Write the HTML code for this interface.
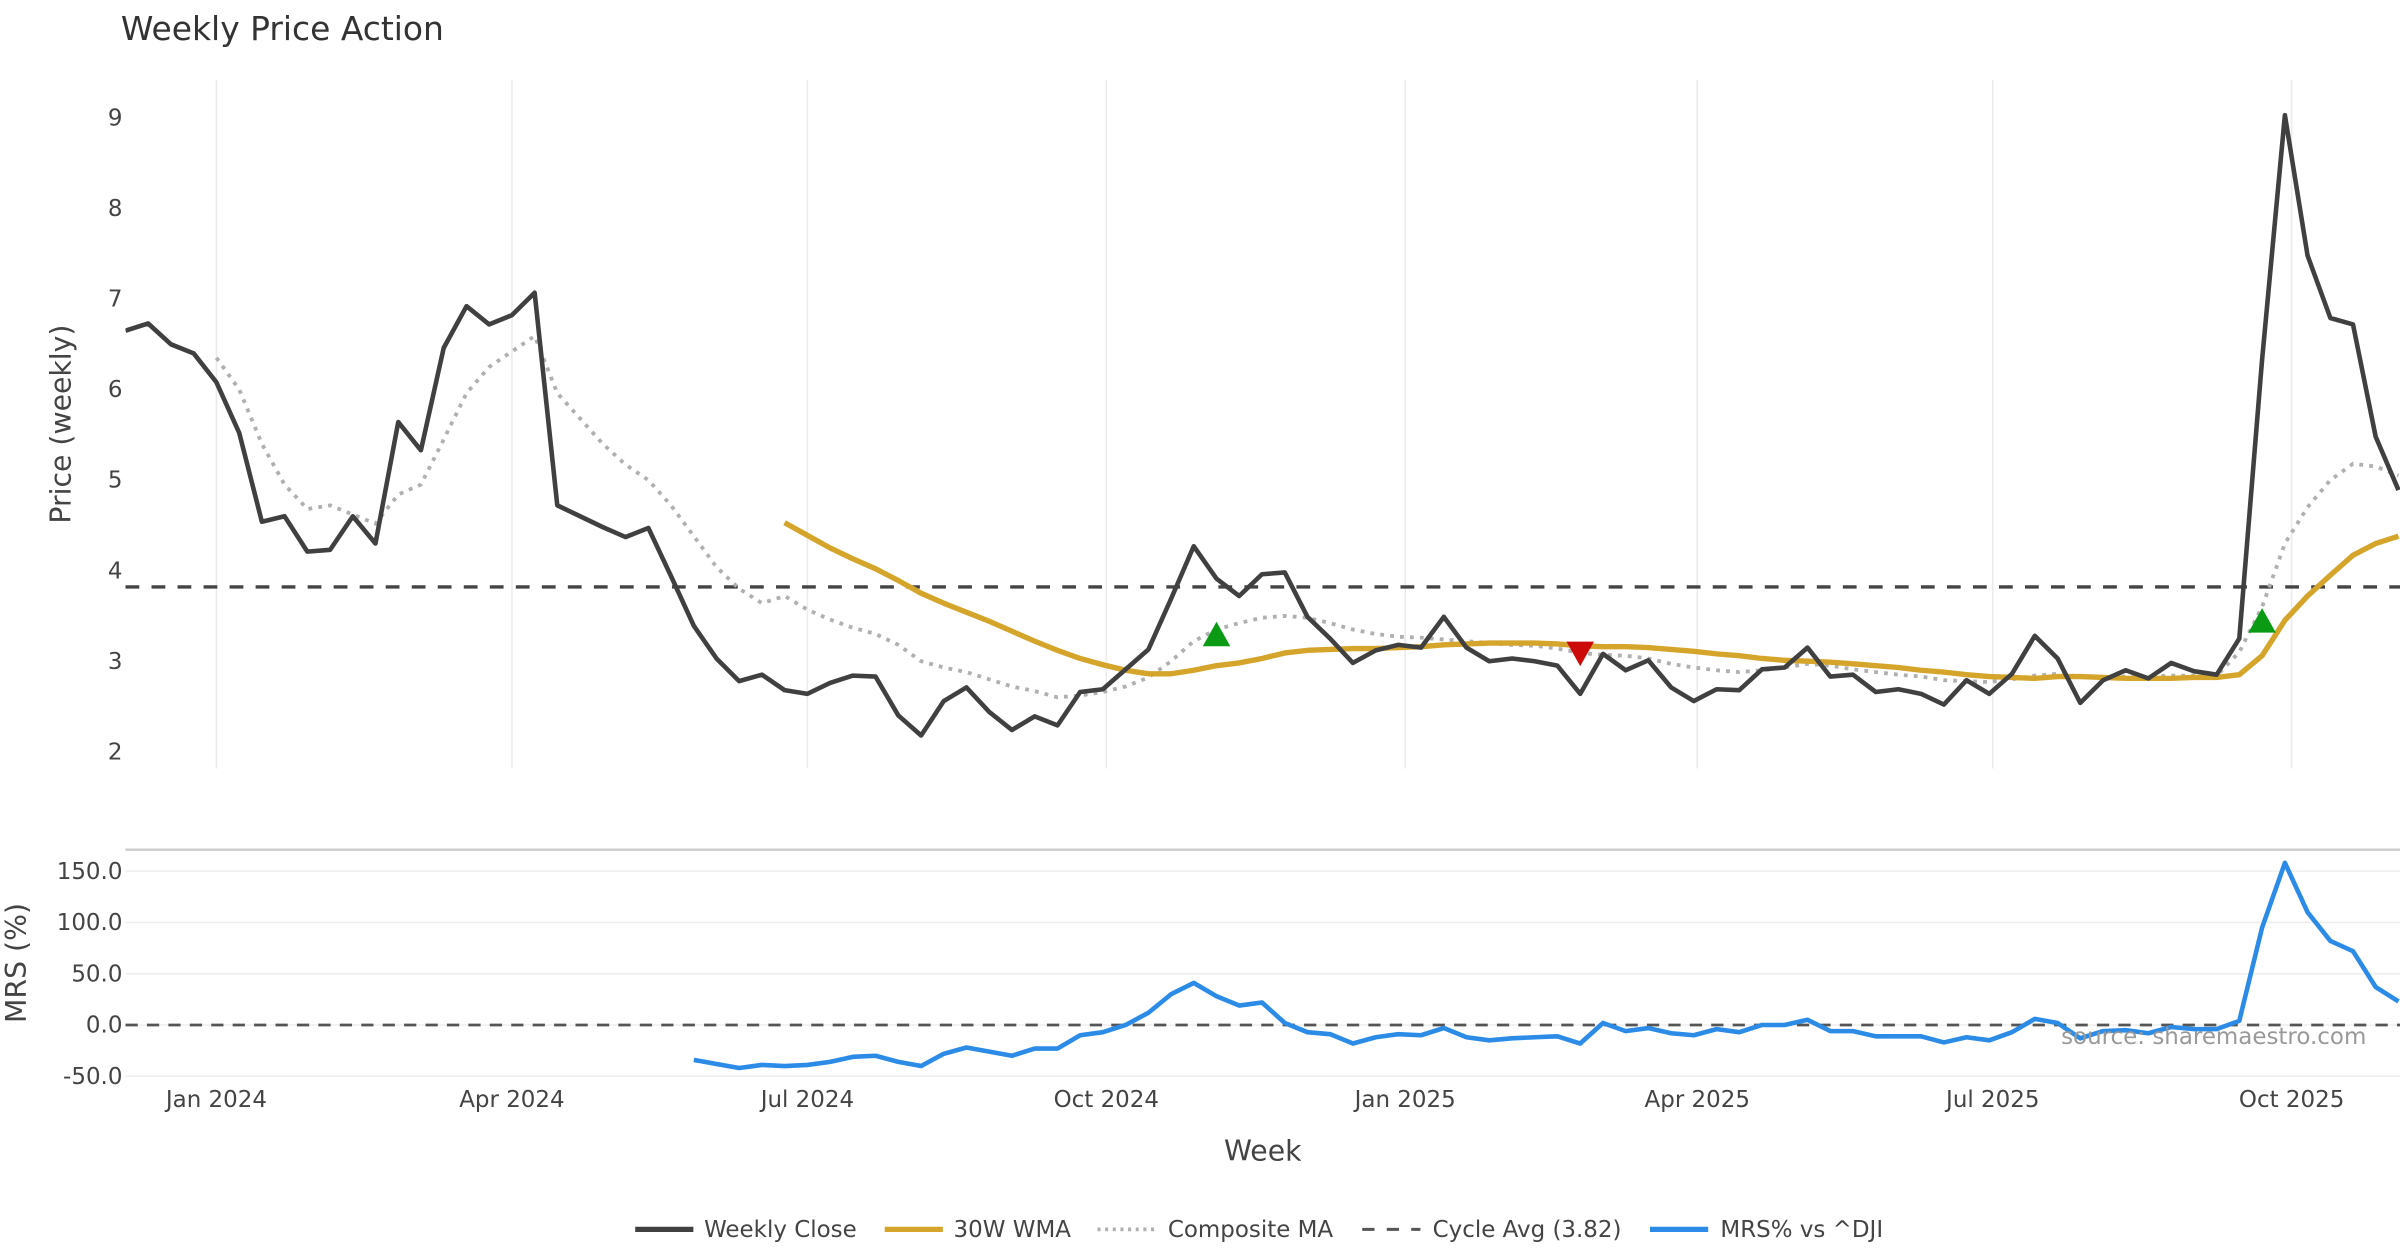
<!DOCTYPE html>
<html><head><meta charset="utf-8"><style>
html,body{margin:0;padding:0;background:#fff;}
svg{display:block;font-family:"DejaVu Sans","Liberation Sans",sans-serif;}
</style></head><body>
<svg id="chart" width="2400" height="1260" viewBox="0 0 1568 823" preserveAspectRatio="none" xmlns="http://www.w3.org/2000/svg">
<defs><clipPath id="pc"><rect x="82" y="40" width="1486" height="480"/></clipPath>
<clipPath id="mc"><rect x="82" y="550" width="1486" height="170"/></clipPath></defs>
<text x="79" y="26" font-size="21.5" fill="#333">Weekly Price Action</text>
<text transform="translate(46,277) rotate(-90)" text-anchor="middle" font-size="18.5" fill="#444">Price (weekly)</text>
<text transform="translate(17,629) rotate(-90)" text-anchor="middle" font-size="18.5" fill="#444">MRS (%)</text>
<text x="825" y="758" text-anchor="middle" font-size="18.5" fill="#444">Week</text>
<g id="grid"></g><g id="plot" clip-path="url(#pc)"></g><g id="mrs" clip-path="url(#mc)"></g><g id="labels"></g>
<text x="1546" y="682" text-anchor="end" font-size="15" fill="#999">source: sharemaestro.com</text>
<g id="legend" font-size="15" fill="#444">
<line x1="415" y1="803" x2="453" y2="803" stroke="#404040" stroke-width="3.5"/><text x="460" y="808">Weekly Close</text>
<line x1="578" y1="803" x2="616" y2="803" stroke="#d4a52a" stroke-width="3.5"/><text x="623" y="808">30W WMA</text>
<line x1="717" y1="803" x2="755" y2="803" stroke="#b0b0b0" stroke-width="2.5" stroke-dasharray="2,3"/><text x="763" y="808">Composite MA</text>
<line x1="890" y1="803" x2="928" y2="803" stroke="#555" stroke-width="2" stroke-dasharray="8,8"/><text x="936" y="808">Cycle Avg (3.82)</text>
<line x1="1078" y1="803" x2="1116" y2="803" stroke="#2b8be6" stroke-width="3.5"/><text x="1124" y="808">MRS% vs ^DJI</text>
</g>
</svg>
<script>
const closeVals=[6.65,6.73,6.5,6.4,6.08,5.52,4.54,4.6,4.21,4.23,4.6,4.3,5.64,5.33,6.46,6.92,6.72,6.82,7.07,4.72,4.6,4.48,4.37,4.47,3.94,3.39,3.03,2.78,2.85,2.68,2.64,2.76,2.84,2.83,2.4,2.18,2.56,2.71,2.44,2.24,2.39,2.29,2.66,2.69,2.91,3.13,3.69,4.27,3.91,3.72,3.96,3.98,3.49,3.25,2.98,3.12,3.18,3.15,3.49,3.15,3.0,3.03,3.0,2.95,2.64,3.08,2.9,3.01,2.71,2.56,2.69,2.68,2.91,2.93,3.15,2.83,2.85,2.66,2.69,2.64,2.52,2.79,2.64,2.86,3.28,3.03,2.54,2.79,2.9,2.81,2.98,2.89,2.85,3.25,6.33,9.03,7.48,6.79,6.72,5.48,4.89];
const wmaStart=29;
const wmaVals=[4.53,4.39,4.25,4.13,4.02,3.89,3.75,3.64,3.54,3.44,3.33,3.22,3.12,3.03,2.96,2.9,2.86,2.86,2.9,2.95,2.98,3.03,3.09,3.12,3.13,3.14,3.14,3.15,3.16,3.18,3.19,3.2,3.2,3.2,3.19,3.17,3.16,3.16,3.15,3.13,3.11,3.08,3.06,3.03,3.01,3.0,2.99,2.97,2.95,2.93,2.9,2.88,2.85,2.83,2.82,2.81,2.83,2.83,2.82,2.81,2.81,2.81,2.82,2.82,2.85,3.06,3.45,3.72,3.95,4.17,4.3,4.38];
const compStart=4;
const compVals=[6.35,6.0,5.4,4.95,4.68,4.72,4.62,4.52,4.84,4.95,5.45,5.96,6.25,6.42,6.59,5.96,5.68,5.4,5.17,5.0,4.72,4.38,4.04,3.8,3.64,3.72,3.57,3.46,3.37,3.3,3.18,3.0,2.93,2.88,2.8,2.72,2.67,2.6,2.62,2.66,2.72,2.82,3.0,3.22,3.35,3.42,3.48,3.5,3.48,3.42,3.35,3.3,3.27,3.26,3.24,3.22,3.2,3.18,3.17,3.14,3.09,3.07,3.06,3.03,2.97,2.93,2.9,2.88,2.9,2.93,2.97,2.95,2.91,2.88,2.85,2.83,2.79,2.78,2.77,2.8,2.84,2.86,2.83,2.82,2.83,2.83,2.84,2.84,2.84,3.1,3.6,4.3,4.7,5.0,5.18,5.15,5.05];
const mrsStart=25;
const mrsVals=[-34,-38,-42,-39,-40,-39,-36,-31,-30,-36,-40,-28,-22,-26,-30,-23,-23,-10,-7,0,12,30,41,28,19,22,2,-7,-9,-18,-12,-9,-10,-3,-12,-15,-13,-12,-11,-18,2,-6,-3,-8,-10,-4,-7,0,0,5,-6,-6,-11,-11,-11,-17,-12,-15,-7,6,2,-13,-6,-5,-8,-2,-4,-4,4,95,158,110,82,72,37,23];
const cycleAvg=3.82;
const buyIdx=[48,94];const buyVals=[3.3,3.45];
const sellIdx=[64];const sellVals=[3.08];
const priceTicks=[2,3,4,5,6,7,8,9];
const mrsTicks=[-50,0,50,100,150];
const monthLabels=["Jan 2024","Apr 2024","Jul 2024","Oct 2024","Jan 2025","Apr 2025","Jul 2025","Oct 2025"];
const monthWeeks=[4,17,30,43.15,56.3,69.15,82.15,95.3];

const NS="http://www.w3.org/2000/svg";
const X=i=>82+i*14.85;
const Y=v=>491-(v-2)*59.14;
const M=v=>669.5-v*0.67;
function mk(p,t,a){const e=document.createElementNS(NS,t);for(const k in a)e.setAttribute(k,a[k]);p.appendChild(e);return e;}
const grid=document.getElementById('grid'),plot=document.getElementById('plot'),mrs=document.getElementById('mrs'),lab=document.getElementById('labels');
monthWeeks.forEach((w,k)=>{
 const g=mk(grid,'line',{x1:X(w),x2:X(w),y1:52,y2:502,stroke:'#ebebeb','stroke-width':1});
 
 
 const t=mk(lab,'text',{x:X(w),y:723,'text-anchor':'middle','font-size':15,fill:'#444'});t.textContent=monthLabels[k];
 
 
});
priceTicks.forEach(v=>{const t=mk(lab,'text',{x:80,y:Y(v)+5,'text-anchor':'end','font-size':15,fill:'#444'});t.textContent=v;
 
 });
const sep=mk(grid,'line',{x1:82,x2:1568,y1:555,y2:555,stroke:'#ccc','stroke-width':1.5});


mrsTicks.forEach(v=>{mk(grid,'line',{x1:82,x2:1568,y1:M(v),y2:M(v),stroke:'#eeeeee','stroke-width':1});
 const t=mk(lab,'text',{x:80,y:M(v)+5,'text-anchor':'end','font-size':15,fill:'#444'});t.textContent=v.toFixed(1);
 
 });
function path(arr,start,fx,fy){return arr.map((v,i)=>(i?'L':'M')+fx(start+i).toFixed(1)+','+fy(v).toFixed(1)).join('');}
const ca=mk(plot,'line',{x1:82,x2:1568,y1:Y(cycleAvg),y2:Y(cycleAvg),stroke:'#444','stroke-width':2.2,'stroke-dasharray':'9,8'});


const cp=mk(plot,'path',{d:path(compVals,compStart,X,Y),fill:'none',stroke:'#b0b0b0','stroke-width':2.5,'stroke-dasharray':'2.5,4'});


const wp=mk(plot,'path',{d:path(wmaVals,wmaStart,X,Y),fill:'none',stroke:'#d4a52a','stroke-width':3.5,'stroke-linejoin':'round'});


const cl=mk(plot,'path',{d:path(closeVals,0,X,Y),fill:'none',stroke:'#404040','stroke-width':3,'stroke-linejoin':'round'});


buyIdx.forEach((i,k)=>{const x=X(i),y=Y(buyVals[k]);const m=mk(plot,'polygon',{points:`${x-9},${y+8} ${x+9},${y+8} ${x},${y-8}`,fill:'#0a9a14'});
 
 });
sellIdx.forEach((i,k)=>{const x=X(i),y=Y(sellVals[k]);const m=mk(plot,'polygon',{points:`${x-9},${y-8} ${x+9},${y-8} ${x},${y+8}`,fill:'#cc0a0a'});
 
 });
const z=mk(mrs,'line',{x1:82,x2:1568,y1:M(0),y2:M(0),stroke:'#555','stroke-width':1.8,'stroke-dasharray':'8,6'});


const mp=mk(mrs,'path',{d:path(mrsVals,mrsStart,X,M),fill:'none',stroke:'#2b8be6','stroke-width':3,'stroke-linejoin':'round'});


</script>
</body></html>
